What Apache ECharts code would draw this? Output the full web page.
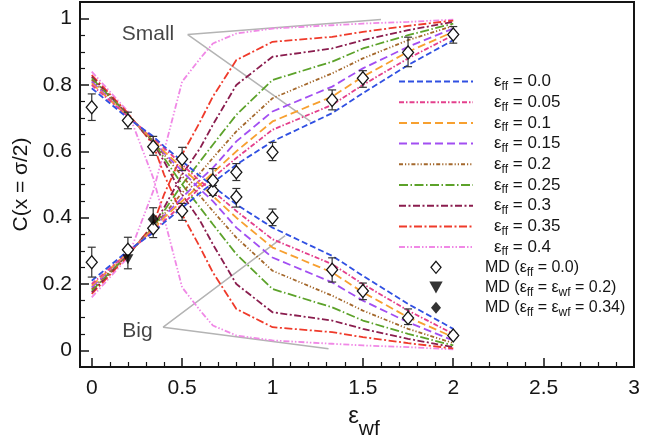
<!DOCTYPE html>
<html>
<head>
<meta charset="utf-8">
<script src="https://cdn.jsdelivr.net/npm/echarts@6/dist/echarts.min.js"></script>
<style>
  html, body { margin: 0; padding: 0; background: #ffffff; }
  #chart { width: 663px; height: 444px; }
</style>
</head>
<body>
<div id="chart"></div>
<script>
// Fluid-fluid interaction strengths of the model curves
const effValues = ['0.0', '0.05', '0.1', '0.15', '0.2', '0.25', '0.3', '0.35', '0.4'];

// wall-fluid strengths at which the model curves are evaluated
const modelX = [0, 0.2, 0.34, 0.4, 0.5, 0.6, 0.67, 0.8, 1, 1.33, 1.5, 1.75, 2];

// C(x = sigma/2) of the big particles, one row per eps_ff
const bigEff00 = [0.79, 0.70, 0.645, 0.615, 0.57, 0.525, 0.495, 0.44, 0.37, 0.285, 0.225, 0.14, 0.065];
const bigEff05 = [0.80, 0.705, 0.64, 0.61, 0.56, 0.51, 0.48, 0.42, 0.335, 0.26, 0.20, 0.12, 0.05];
const bigEff10 = [0.805, 0.705, 0.635, 0.60, 0.55, 0.50, 0.465, 0.40, 0.31, 0.235, 0.175, 0.10, 0.04];
const bigEff15 = [0.81, 0.705, 0.635, 0.595, 0.54, 0.485, 0.45, 0.37, 0.28, 0.205, 0.15, 0.085, 0.03];
const bigEff20 = [0.815, 0.71, 0.63, 0.59, 0.525, 0.465, 0.42, 0.34, 0.24, 0.165, 0.12, 0.065, 0.022];
const bigEff25 = [0.82, 0.71, 0.63, 0.58, 0.50, 0.43, 0.38, 0.29, 0.185, 0.13, 0.09, 0.05, 0.015];
const bigEff30 = [0.825, 0.71, 0.625, 0.57, 0.47, 0.39, 0.32, 0.20, 0.115, 0.09, 0.065, 0.035, 0.01];
const bigEff35 = [0.83, 0.715, 0.62, 0.53, 0.41, 0.31, 0.235, 0.125, 0.07, 0.055, 0.04, 0.022, 0.006];
const bigEff40 = [0.84, 0.72, 0.52, 0.40, 0.19, 0.12, 0.075, 0.045, 0.03, 0.02, 0.015, 0.01, 0.003];

// C(x = sigma/2) of the small particles, one row per eps_ff
const smallEff00 = [0.21, 0.30, 0.355, 0.385, 0.43, 0.475, 0.505, 0.56, 0.63, 0.715, 0.775, 0.86, 0.935];
const smallEff05 = [0.20, 0.295, 0.36, 0.39, 0.44, 0.49, 0.52, 0.58, 0.665, 0.74, 0.80, 0.88, 0.95];
const smallEff10 = [0.195, 0.295, 0.365, 0.40, 0.45, 0.50, 0.535, 0.60, 0.69, 0.765, 0.825, 0.90, 0.96];
const smallEff15 = [0.19, 0.295, 0.365, 0.405, 0.46, 0.515, 0.55, 0.63, 0.72, 0.795, 0.85, 0.915, 0.97];
const smallEff20 = [0.185, 0.29, 0.37, 0.41, 0.475, 0.535, 0.58, 0.66, 0.76, 0.835, 0.88, 0.935, 0.978];
const smallEff25 = [0.18, 0.29, 0.37, 0.42, 0.50, 0.57, 0.62, 0.71, 0.815, 0.87, 0.91, 0.95, 0.985];
const smallEff30 = [0.175, 0.29, 0.375, 0.43, 0.53, 0.61, 0.68, 0.80, 0.885, 0.91, 0.935, 0.965, 0.99];
const smallEff35 = [0.17, 0.285, 0.38, 0.47, 0.59, 0.69, 0.765, 0.875, 0.93, 0.945, 0.96, 0.978, 0.994];
const smallEff40 = [0.16, 0.28, 0.48, 0.60, 0.81, 0.88, 0.925, 0.955, 0.97, 0.98, 0.985, 0.99, 0.997];

const bigCurves = [bigEff00, bigEff05, bigEff10, bigEff15, bigEff20, bigEff25, bigEff30, bigEff35, bigEff40];
const smallCurves = [smallEff00, smallEff05, smallEff10, smallEff15, smallEff20, smallEff25, smallEff30, smallEff35, smallEff40];

// Molecular dynamics results (eps_ff = 0) with error bars
const mdX = [0, 0.2, 0.34, 0.5, 0.67, 0.8, 1, 1.33, 1.5, 1.75, 2];
const mdBig = [0.733, 0.693, 0.614, 0.577, 0.482, 0.462, 0.40, 0.243, 0.179, 0.098, 0.045];
const mdBigLo = [0.693, 0.668, 0.588, 0.542, 0.467, 0.432, 0.376, 0.206, 0.153, 0.078, 0.038];
const mdBigHi = [0.773, 0.718, 0.645, 0.612, 0.497, 0.488, 0.426, 0.279, 0.203, 0.125, 0.052];
const mdSmall = [0.266, 0.303, 0.368, 0.42, 0.512, 0.537, 0.597, 0.755, 0.82, 0.898, 0.952];
const mdSmallLo = [0.221, 0.246, 0.34, 0.392, 0.497, 0.512, 0.572, 0.725, 0.793, 0.855, 0.926];
const mdSmallHi = [0.311, 0.341, 0.43, 0.443, 0.548, 0.563, 0.627, 0.785, 0.843, 0.944, 0.976];

// Molecular dynamics results with eps_ff = eps_wf
const mdEqualX02 = [0.2];
const mdEqualY02 = [0.275];
const mdEqualX034 = [0.34];
const mdEqualY034 = [0.395];

// Line styles of the model curves
const curveColors = ['#3050e2', '#e43f8c', '#f7a030', '#a24ef2', '#a4682c', '#5ca22a', '#8a1d4e', '#ef3a2a', '#f088e6'];
const curveDashes = [
  [6, 3], [5, 2, 1.5, 2], [8, 4], [8, 4], [4, 2, 1.2, 2, 1.2, 2],
  [9, 2.5, 1.5, 2.5], [7, 2.5, 2, 2.5], [8, 2.5, 2, 2.5], [6, 2, 1.5, 2, 1.5, 2]
];

const FONT = '"Liberation Sans", Arial, Helvetica, sans-serif';
const INK = '#151515';

const curveName = v => 'εff = ' + v;
const MD0 = 'MD (εff = 0.0)';
const MD02 = 'MD (εff = εwf = 0.2)';
const MD034 = 'MD (εff = εwf = 0.34)';

const DIAMOND = 'path://M5,0L10,6L5,12L0,6Z';
const TRI_DOWN = 'path://M0,0L10,0L5,9Z';

const series = [];

// pointer lines for the "Small" and "Big" tags
series.push({
  type: 'line', silent: true, symbol: 'none', z: 1,
  data: [[1.6, 0.997], [0.531, 0.952], [1.21, 0.69]],
  lineStyle: { color: '#b4b4b4', width: 1.5 }
});
series.push({
  type: 'line', silent: true, symbol: 'none', z: 1,
  data: [[1.07, 0.346], [0.395, 0.070], [1.31, 0.005]],
  lineStyle: { color: '#b4b4b4', width: 1.5 }
});
series.push({
  type: 'scatter', silent: true, z: 1,
  symbolSize: 1,
  itemStyle: { color: 'rgba(0,0,0,0)' },
  data: [
    { value: [0.531, 0.952], name: 'Small', label: { distance: 13, offset: [0, 0] } },
    { value: [0.395, 0.070], name: 'Big', label: { distance: 10, offset: [0, 4] } }
  ],
  label: {
    show: true, position: 'left', formatter: p => p.name,
    fontFamily: FONT, fontSize: 21, color: INK
  }
});

// model curves, drawn from eps_ff = 0.4 down to 0.0 so the blue one sits on top
for (let i = effValues.length - 1; i >= 0; i--) {
  const common = {
    name: curveName(effValues[i]),
    type: 'line',
    symbol: 'none',
    silent: true,
    z: 2,
    lineStyle: { color: curveColors[i], width: 1.8, type: curveDashes[i] },
    itemStyle: { color: curveColors[i] }
  };
  series.push(Object.assign({}, common, { data: modelX.map((x, k) => [x, bigCurves[i][k]]) }));
  series.push(Object.assign({}, common, { data: modelX.map((x, k) => [x, smallCurves[i][k]]) }));
}

// error bars of the MD points
const errData = mdX.map((x, k) => [x, mdBigLo[k], mdBigHi[k]])
  .concat(mdX.map((x, k) => [x, mdSmallLo[k], mdSmallHi[k]]));
series.push({
  type: 'custom', silent: true, z: 3,
  data: errData,
  encode: { x: 0, y: [1, 2] },
  renderItem: function (params, api) {
    const x = api.value(0);
    const a = api.coord([x, api.value(1)]);
    const b = api.coord([x, api.value(2)]);
    const w = 4;
    const st = { stroke: '#333', lineWidth: 1.2 };
    return {
      type: 'group',
      children: [
        { type: 'line', shape: { x1: a[0], y1: a[1], x2: b[0], y2: b[1] }, style: st },
        { type: 'line', shape: { x1: a[0] - w, y1: a[1], x2: a[0] + w, y2: a[1] }, style: st },
        { type: 'line', shape: { x1: b[0] - w, y1: b[1], x2: b[0] + w, y2: b[1] }, style: st }
      ]
    };
  }
});

// MD markers
series.push({
  name: MD0, type: 'scatter', silent: true, z: 4,
  symbol: DIAMOND, symbolSize: [11, 13], symbolKeepAspect: false,
  itemStyle: { color: '#ffffff', borderColor: INK, borderWidth: 1.3, opacity: 1 },
  data: mdX.map((x, k) => [x, mdBig[k]]).concat(mdX.map((x, k) => [x, mdSmall[k]]))
});
series.push({
  name: MD02, type: 'scatter', silent: true, z: 5,
  symbol: TRI_DOWN, symbolSize: [11, 10], symbolKeepAspect: false,
  itemStyle: { color: '#000000' },
  data: mdEqualX02.map((x, k) => [x, mdEqualY02[k]])
});
series.push({
  name: MD034, type: 'scatter', silent: true, z: 5,
  symbol: DIAMOND, symbolSize: [11, 13], symbolKeepAspect: false,
  itemStyle: { color: '#000000' },
  data: mdEqualX034.map((x, k) => [x, mdEqualY034[k]])
});

const legendRich = {
  p: { width: 16 },
  q: { width: 7 },
  e: { fontFamily: FONT, fontSize: 17, color: INK, lineHeight: 22 },
  s: { fontFamily: FONT, fontSize: 12, color: INK, lineHeight: 12, verticalAlign: 'bottom' },
  m: { fontFamily: FONT, fontSize: 16, color: INK, lineHeight: 22 },
  t: { fontFamily: FONT, fontSize: 12, color: INK, lineHeight: 12, verticalAlign: 'bottom' }
};

function legendText(name) {
  if (name === MD0) return '{q| }{m|MD (ε}{t|ff}{m| = 0.0)}';
  if (name === MD02) return '{q| }{m|MD (ε}{t|ff}{m| = ε}{t|wf}{m| = 0.2)}';
  if (name === MD034) return '{q| }{m|MD (ε}{t|ff}{m| = ε}{t|wf}{m| = 0.34)}';
  return '{p| }{e|ε}{s|ff}{e| = ' + name.split('= ')[1] + '}';
}

const tickText = v => {
  const r = Math.round(v * 10) / 10;
  return Math.abs(v - r) < 1e-6 ? String(r) : '';
};

const axisCommon = {
  type: 'value',
  axisLine: { show: true, onZero: false, lineStyle: { color: INK, width: 2 } },
  axisTick: { show: true, inside: true, length: 9, lineStyle: { color: INK, width: 1.5 } },
  minorTick: { show: true, length: 5, lineStyle: { color: INK, width: 1.2 } },
  splitLine: { show: false },
  minorSplitLine: { show: false },
  axisLabel: { fontFamily: FONT, fontSize: 21, color: INK, formatter: tickText }
};

const chart = echarts.init(document.getElementById('chart'), null, { renderer: 'canvas' });
chart.setOption({
  animation: false,
  backgroundColor: '#ffffff',
  textStyle: { fontFamily: FONT },
  grid: {
    left: 80, right: 29, top: 2, bottom: 77,
    show: true, borderColor: INK, borderWidth: 2, backgroundColor: 'transparent',
    containLabel: false, outerBoundsMode: 'none'
  },
  legend: {
    show: true,
    orient: 'vertical',
    left: 398, top: 73,
    padding: 0,
    itemWidth: 74, itemHeight: 12, itemGap: 1.2,
    symbolKeepAspect: true,
    selectedMode: false,
    formatter: legendText,
    textStyle: { rich: legendRich },
    data: effValues.map(name => ({ name: curveName(name), itemStyle: { opacity: 0 } })).concat([
      { name: MD0, icon: DIAMOND, itemStyle: { color: '#ffffff', borderColor: INK, borderWidth: 1.3 } },
      { name: MD02, icon: TRI_DOWN, itemStyle: { color: '#000000' } },
      { name: MD034, icon: DIAMOND, itemStyle: { color: '#000000' } }
    ])
  },
  xAxis: Object.assign({}, axisCommon, {
    min: -0.065, max: 3,
    minorTick: Object.assign({}, axisCommon.minorTick, { splitNumber: 5 }),
    axisLabel: Object.assign({}, axisCommon.axisLabel, { margin: 11 }),
    name: '{p| }{e|ε}{s|wf}',
    nameLocation: 'middle',
    nameGap: 18,
    nameTextStyle: {
      rich: {
        p: { width: 14 },
        e: { fontFamily: FONT, fontSize: 24, color: INK, lineHeight: 48 },
        s: { fontFamily: FONT, fontSize: 21, color: INK, lineHeight: 20, verticalAlign: 'bottom' }
      }
    }
  }),
  yAxis: Object.assign({}, axisCommon, {
    min: -0.05, max: 1.05,
    minorTick: Object.assign({}, axisCommon.minorTick, { splitNumber: 4 }),
    axisLabel: Object.assign({}, axisCommon.axisLabel, { margin: 8 }),
    name: 'C(x = σ/2)',
    nameLocation: 'middle',
    nameGap: 44,
    nameTextStyle: { fontFamily: FONT, fontSize: 21, color: INK }
  }),
  series: series
});
</script>
</body>
</html>
